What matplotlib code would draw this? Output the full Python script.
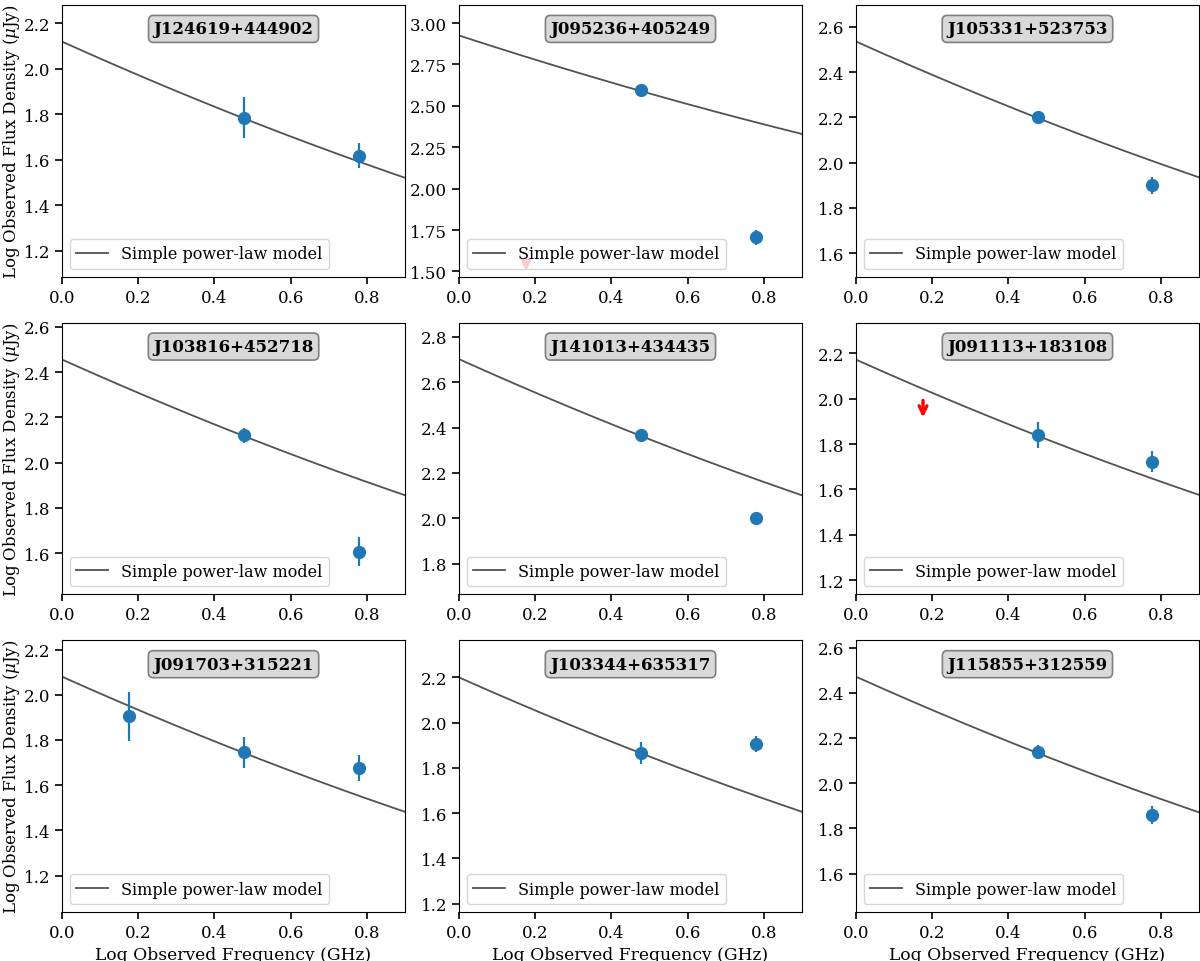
import numpy as np
import matplotlib
matplotlib.use("Agg")
import matplotlib.pyplot as plt

plt.rcParams['font.family'] = ['DejaVu Serif']
plt.rcParams['mathtext.fontset'] = 'dejavuserif'

# log10 of 1.5, 3 and 6 GHz
LOG_NU = [0.176, 0.477, 0.778]

sources = ['J124619+444902', 'J095236+405249', 'J105331+523753',
           'J103816+452718', 'J141013+434435', 'J091113+183108',
           'J091703+315221', 'J103344+635317', 'J115855+312559']

# detections: index into LOG_NU, log flux, error
det_idx = [[1, 2], [1, 2], [1, 2],
           [1, 2], [1, 2], [1, 2],
           [0, 1, 2], [1, 2], [1, 2]]
det_flux = [[1.785, 1.618], [2.594, 1.706], [2.201, 1.900],
            [2.121, 1.606], [2.368, 1.999], [1.841, 1.722],
            [1.904, 1.745, 1.677], [1.866, 1.906], [2.136, 1.861]]
det_err = [[0.090, 0.056], [0.010, 0.045], [0.025, 0.037],
           [0.033, 0.064], [0.010, 0.024], [0.057, 0.047],
           [0.110, 0.067, 0.057], [0.050, 0.037], [0.031, 0.040]]

# upper limits at 1.5 GHz (None = no limit)
uplim_flux = [None, 1.578, None, None, None, 1.993, None, None, None]

# fitted model: log flux at log nu = 0 and at log nu = 0.9
model_start = [2.119, 2.925, 2.535, 2.456, 2.702, 2.173, 2.080, 2.200, 2.471]
model_end = [1.520, 2.330, 1.935, 1.856, 2.101, 1.576, 1.482, 1.606, 1.871]
model_curv = 0.1

ylims = [(1.085, 2.280), (1.468, 3.109), (1.496, 2.696),
         (1.418, 2.619), (1.664, 2.863), (1.137, 2.336),
         (1.039, 2.241), (1.163, 2.364), (1.430, 2.632)]

XMAX = 0.9

fig, axes = plt.subplots(3, 3, figsize=(12, 9.62), dpi=100)
fig.subplots_adjust(left=62 / 1200, right=1199 / 1200, top=1 - 6 / 962,
                    bottom=1 - 913 / 962, wspace=0.157, hspace=0.169)

xm = np.linspace(0, XMAX, 200)

for i, ax in enumerate(axes.flat):
    # model curve
    slope = (model_end[i] - model_start[i]) / XMAX
    ym = model_start[i] + slope * xm + model_curv * xm * (xm - XMAX)
    ax.plot(xm, ym, color='k', alpha=0.68, lw=1.3, label='Simple power-law model')

    xs = [LOG_NU[j] for j in det_idx[i]]
    ax.errorbar(xs, det_flux[i], yerr=det_err[i], fmt='o', color='#1f77b4',
                markersize=8.5, elinewidth=1.6, capsize=0)

    if uplim_flux[i] is not None:
        ax.annotate('', xy=(LOG_NU[0], uplim_flux[i] - 0.075),
                    xytext=(LOG_NU[0], uplim_flux[i]),
                    arrowprops=dict(arrowstyle='->', color='red', lw=2.4,
                                    mutation_scale=14, shrinkA=0, shrinkB=0))

    ax.text(0.5, 0.912, sources[i], transform=ax.transAxes, ha='center',
            va='center', fontsize=12, fontweight='bold',
            bbox=dict(boxstyle='round,pad=0.3', facecolor='#d9d9d9',
                      edgecolor='#7f7f7f', lw=1.2))

    ax.set_xlim(0, XMAX)
    ax.set_ylim(*ylims[i])
    ax.tick_params(labelsize=12, width=1.2, length=5)
    ax.legend(loc='lower left', fontsize=11.5)

    if i % 3 == 0:
        ax.set_ylabel(r'Log Observed Flux Density ($\mu$Jy)', fontsize=12,
                      labelpad=1.5)
    if i >= 6:
        ax.set_xlabel('Log Observed Frequency (GHz)', fontsize=12.3)

fig.savefig('out.png', dpi=100)
